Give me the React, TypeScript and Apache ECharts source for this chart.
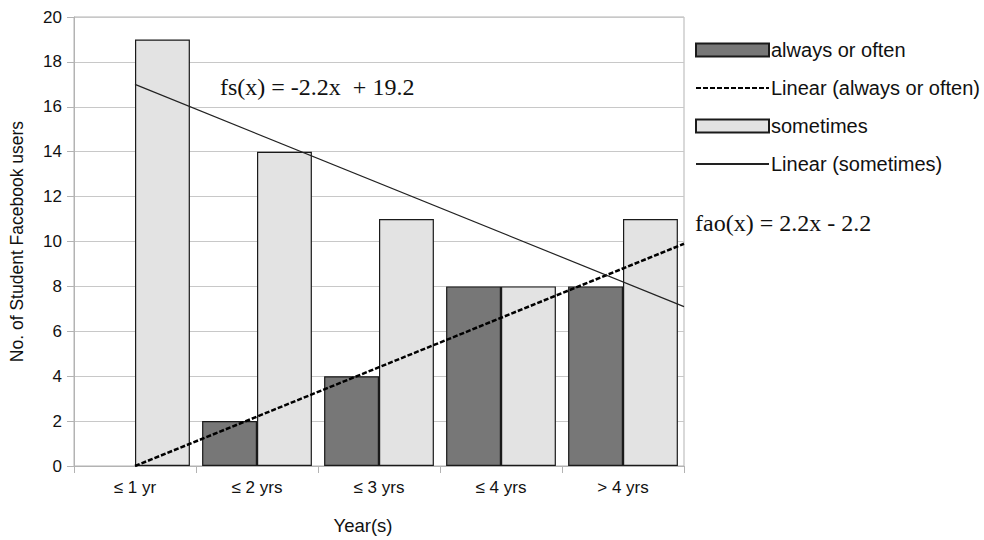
import React, { useEffect, useRef } from "react";
import * as echarts from "echarts";

const categories = ["≤ 1 yr", "≤ 2 yrs", "≤ 3 yrs", "≤ 4 yrs", "> 4 yrs"];
const alwaysOrOften = [0, 2, 4, 8, 8];
const sometimes = [19, 14, 11, 8, 11];
const yTicks = { min: 0, max: 20, interval: 2 };

function regression(ys: number[]) {
  const n = ys.length;
  const xs = ys.map((_, i) => i + 1);
  const mx = xs.reduce((a, b) => a + b, 0) / n;
  const my = ys.reduce((a, b) => a + b, 0) / n;
  let num = 0, den = 0;
  for (let i = 0; i < n; i++) {
    num += (xs[i] - mx) * (ys[i] - my);
    den += (xs[i] - mx) ** 2;
  }
  const slope = num / den;
  const intercept = my - slope * mx;
  return { slope, intercept };
}

function trendPoints(ys: number[]) {
  const { slope, intercept } = regression(ys);
  const x0 = 1;
  const x1 = ys.length + 0.5;
  return [
    [x0, slope * x0 + intercept],
    [x1, slope * x1 + intercept],
  ];
}

function barData(vals: number[]) {
  return vals.map((v) => (v === 0 ? { value: v, itemStyle: { borderWidth: 0 } } : v));
}

export default function App() {
  const ref = useRef<HTMLDivElement>(null);
  useEffect(() => {
    if (!ref.current) return;
    const chart = echarts.init(ref.current, undefined, { renderer: "svg" });
    const sans = "'Liberation Sans', Arial, sans-serif";
    const serif = "'Liberation Serif', 'Times New Roman', serif";
    chart.setOption({
      animation: false,
      backgroundColor: "#ffffff",
      grid: {
        left: 72,
        right: 300,
        top: 17,
        bottom: 70,
        show: true,
        borderColor: "#b3b3b3",
        borderWidth: 1,
      },
      legend: {
        orient: "vertical",
        left: 690,
        top: 35,
        itemWidth: 73,
        itemHeight: 13,
        itemGap: 18,
        textStyle: { fontFamily: sans, fontSize: 20, color: "#111", padding: [0, 0, 0, -3] },
        data: [
          { name: "always or often", icon: "rect" },
          { name: "Linear (always or often)", itemStyle: { opacity: 0 } },
          { name: "sometimes", icon: "rect" },
          { name: "Linear (sometimes)", itemStyle: { opacity: 0 } },
        ],
      },
      xAxis: [
        {
          type: "category",
          data: categories,
          axisLine: { lineStyle: { color: "#b3b3b3" } },
          axisTick: { show: true, length: 7, lineStyle: { color: "#b3b3b3" } },
          axisLabel: { fontFamily: sans, fontSize: 17, color: "#111", margin: 13 },
          name: "Year(s)",
          nameLocation: "middle",
          nameGap: 50,
          nameTextStyle: { fontFamily: sans, fontSize: 18.5, color: "#111", padding: [0, 32, 0, 0] },
        },
        {
          type: "value",
          min: 0.5,
          max: 5.5,
          show: false,
        },
      ],
      yAxis: {
        type: "value",
        min: yTicks.min,
        max: yTicks.max,
        interval: yTicks.interval,
        axisLine: { show: true, lineStyle: { color: "#b3b3b3" } },
        axisTick: { show: true, length: 7, lineStyle: { color: "#b3b3b3" } },
        splitLine: { lineStyle: { color: "#c8c8c8" } },
        axisLabel: { fontFamily: sans, fontSize: 17, color: "#111", margin: 12 },
        name: "No. of Student Facebook users",
        nameLocation: "middle",
        nameGap: 48,
        nameTextStyle: { fontFamily: sans, fontSize: 17.5, color: "#111" },
      },
      series: [
        {
          name: "always or often",
          type: "bar",
          data: barData(alwaysOrOften),
          barGap: "0%",
          barCategoryGap: "10%",
          itemStyle: { color: "#777777", borderColor: "#1a1a1a", borderWidth: 1.2 },
        },
        {
          name: "sometimes",
          type: "bar",
          data: barData(sometimes),
          barGap: "0%",
          barCategoryGap: "10%",
          itemStyle: { color: "#e3e3e3", borderColor: "#1a1a1a", borderWidth: 1.2 },
        },
        {
          name: "Linear (always or often)",
          type: "line",
          xAxisIndex: 1,
          data: trendPoints(alwaysOrOften),
          symbol: "none",
          lineStyle: { color: "#000", width: 2.5, type: [5, 2] },
          itemStyle: { color: "#000" },
          z: 5,
        },
        {
          name: "Linear (sometimes)",
          type: "line",
          xAxisIndex: 1,
          data: trendPoints(sometimes),
          symbol: "none",
          lineStyle: { color: "#222", width: 1.2 },
          itemStyle: { color: "#222" },
          z: 5,
        },
      ],
      graphic: [
        {
          type: "text",
          left: 220,
          top: 75,
          style: { text: "fs(x) = -2.2x  + 19.2", font: `24px ${serif}`, fill: "#111" },
        },
        {
          type: "text",
          left: 695,
          top: 211,
          style: { text: "fao(x) = 2.2x - 2.2", font: `24px ${serif}`, fill: "#111" },
        },
      ],
    });
    return () => chart.dispose();
  }, []);
  return (
    <div
      ref={ref}
      style={{ position: "fixed", left: 0, top: 0, width: 984, height: 540 }}
    />
  );
}
